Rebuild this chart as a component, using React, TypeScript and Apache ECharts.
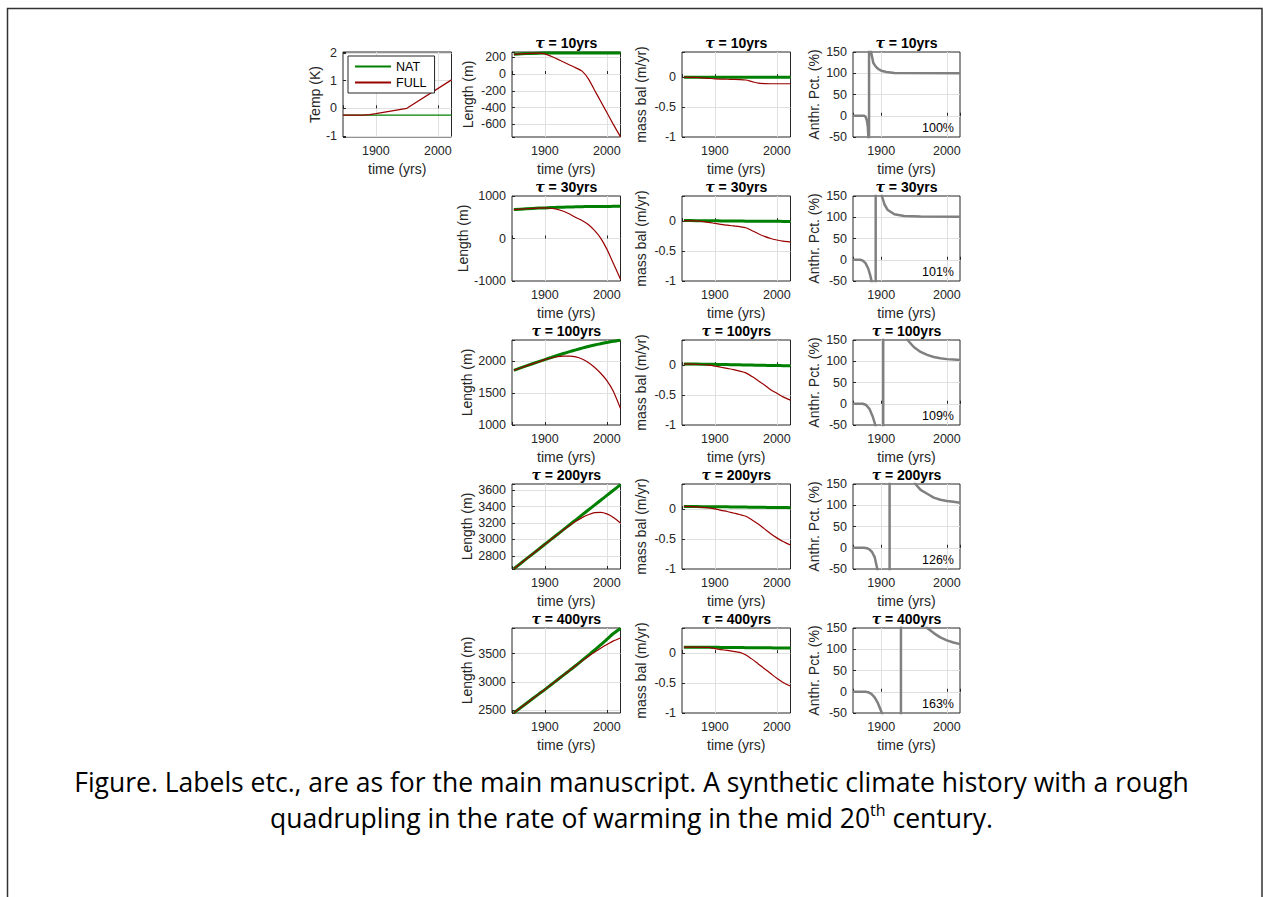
import React, { useEffect, useRef } from 'react';
import * as echarts from 'echarts';

// ---------------- data ----------------
const YRS = [1850, 1870, 1890, 1900, 1910, 1920, 1930, 1940, 1950, 1960, 1970, 1980, 1990, 2000, 2010, 2022];

const TEMP_YRS = [1847, 1870, 1880, 1890, 1900, 1950, 2022];
const TEMP_NAT = [-0.25, -0.25, -0.25, -0.25, -0.25, -0.25, -0.25];
const TEMP_FULL = [-0.25, -0.25, -0.245, -0.228, -0.195, 0, 1.03];

const TAU_VALUES = ['10', '30', '100', '200', '400'];
const PCT_LABELS = ['100%', '101%', '109%', '126%', '163%'];

// Length (m)
const LEN_NAT_10 = [235, 244, 249, 250, 251, 251, 251, 251, 251, 251, 251, 251, 251, 251, 251, 251];
const LEN_FULL_10 = [235, 244, 249, 240, 212, 178, 143, 108, 73, 35, -55, -190, -325, -460, -595, -750];
const LEN_NAT_30 = [680, 700, 715, 720, 727, 733, 738, 742, 746, 749, 751, 753, 754, 755, 756, 757];
const LEN_FULL_30 = [680, 700, 715, 720, 712, 685, 640, 575, 495, 425, 330, 190, 10, -250, -570, -960];
const LEN_NAT_100 = [1860, 1930, 1997, 2030, 2062, 2094, 2125, 2155, 2183, 2210, 2235, 2258, 2280, 2300, 2318, 2335];
const LEN_FULL_100 = [1860, 1930, 1995, 2028, 2055, 2074, 2084, 2085, 2073, 2040, 1985, 1910, 1815, 1700, 1540, 1260];
const LEN_NAT_200 = [2645, 2764, 2882, 2942, 3001, 3060, 3120, 3179, 3238, 3298, 3357, 3416, 3476, 3535, 3594, 3665];
const LEN_FULL_200 = [2645, 2764, 2882, 2941, 3000, 3058, 3118, 3170, 3220, 3265, 3300, 3325, 3328, 3310, 3270, 3200];
const LEN_NAT_400 = [2455, 2620, 2785, 2865, 2950, 3035, 3120, 3205, 3290, 3380, 3470, 3560, 3655, 3750, 3850, 3945];
const LEN_FULL_400 = [2455, 2620, 2785, 2865, 2950, 3035, 3120, 3205, 3290, 3372, 3450, 3525, 3595, 3660, 3720, 3775];

// mass balance (m/yr)
const MB_NAT_10 = [0, 0, 0, 0, 0, 0, 0, 0, 0, 0, 0, 0, 0, 0, 0, 0];
const MB_FULL_10 = [0, -0.005, -0.02, -0.028, -0.032, -0.035, -0.037, -0.04, -0.048, -0.075, -0.1, -0.108, -0.11, -0.11, -0.11, -0.11];
const MB_NAT_30 = [0.01, 0.008, 0.006, 0.005, 0.004, 0.003, 0.002, 0.001, 0, 0, -0.001, -0.002, -0.003, -0.003, -0.004, -0.005];
const MB_FULL_30 = [0.01, 0.003, -0.02, -0.038, -0.053, -0.068, -0.08, -0.092, -0.11, -0.16, -0.21, -0.255, -0.29, -0.315, -0.335, -0.35];
const MB_NAT_100 = [0.02, 0.018, 0.015, 0.013, 0.011, 0.009, 0.007, 0.005, 0.003, 0.001, -0.001, -0.003, -0.005, -0.007, -0.009, -0.011];
const MB_FULL_100 = [0.02, 0.015, 0.0, -0.015, -0.035, -0.055, -0.075, -0.1, -0.13, -0.19, -0.26, -0.33, -0.41, -0.47, -0.53, -0.585];
const MB_NAT_200 = [0.045, 0.043, 0.041, 0.04, 0.039, 0.038, 0.036, 0.035, 0.034, 0.032, 0.031, 0.03, 0.028, 0.027, 0.026, 0.025];
const MB_FULL_200 = [0.045, 0.038, 0.02, 0.005, -0.02, -0.04, -0.065, -0.09, -0.12, -0.18, -0.25, -0.33, -0.41, -0.48, -0.54, -0.6];
const MB_NAT_400 = [0.1, 0.099, 0.098, 0.097, 0.096, 0.095, 0.094, 0.093, 0.092, 0.091, 0.09, 0.089, 0.088, 0.087, 0.086, 0.085];
const MB_FULL_400 = [0.1, 0.1, 0.095, 0.075, 0.06, 0.045, 0.03, 0.012, -0.03, -0.1, -0.18, -0.26, -0.34, -0.42, -0.49, -0.55];

// Anthropogenic percentage (%)
const ANTH_YRS_10 = [1857, 1874, 1876, 1878, 1879.5, 1880.4, 1881, 1881.4, 1881.5, 1883, 1884.5, 1888, 1892, 1895.6, 1900, 1908, 1920, 2020];
const ANTH_10 = [0, 0, -2, -10, -25, -50, -150, -50000, 50000, 300, 150, 124, 115, 110, 106, 103, 100.5, 100];
const ANTH_YRS_30 = [1857, 1868, 1872, 1876, 1880, 1883, 1886, 1889, 1891, 1891.5, 1891.6, 1894, 1898, 1901, 1905, 1910, 1920, 1935, 1960, 2020];
const ANTH_30 = [0, 0, -2, -8, -20, -35, -55, -120, -600, -50000, 50000, 500, 200, 150, 130, 117, 107, 103, 101.5, 101];
const ANTH_YRS_100 = [1857, 1872, 1877, 1882, 1887, 1891, 1895, 1900, 1903, 1903.1, 1910, 1920, 1930, 1940, 1950, 1960, 1970, 1980, 1990, 2000, 2010, 2020];
const ANTH_100 = [0, 0, -3, -12, -30, -50, -90, -300, -50000, 50000, 800, 300, 190, 150, 133, 122, 115, 110, 107, 105, 104, 103];
const ANTH_YRS_200 = [1857, 1874, 1878, 1882, 1886, 1890, 1894, 1898, 1905, 1911, 1912.7, 1912.8, 1915, 1925, 1935, 1945, 1952, 1960, 1970, 1980, 1990, 2000, 2010, 2020];
const ANTH_200 = [0, 0, -1, -4, -10, -22, -50, -100, -300, -3000, -50000, 50000, 3000, 600, 280, 180, 150, 136, 127, 118, 113, 110, 108, 106];
const ANTH_YRS_400 = [1857, 1876, 1880, 1885, 1890, 1895, 1901, 1908, 1918, 1927, 1930, 1930.1, 1935, 1945, 1955, 1963, 1970, 1980, 1990, 2000, 2010, 2020];
const ANTH_400 = [0, 0, -1, -5, -13, -27, -50, -100, -300, -2000, -50000, 50000, 2000, 500, 250, 180, 150, 138, 128, 121, 116, 112];

const LEN_NAT = [LEN_NAT_10, LEN_NAT_30, LEN_NAT_100, LEN_NAT_200, LEN_NAT_400];
const LEN_FULL = [LEN_FULL_10, LEN_FULL_30, LEN_FULL_100, LEN_FULL_200, LEN_FULL_400];
const MB_NAT = [MB_NAT_10, MB_NAT_30, MB_NAT_100, MB_NAT_200, MB_NAT_400];
const MB_FULL = [MB_FULL_10, MB_FULL_30, MB_FULL_100, MB_FULL_200, MB_FULL_400];
const ANTH_YRS = [ANTH_YRS_10, ANTH_YRS_30, ANTH_YRS_100, ANTH_YRS_200, ANTH_YRS_400];
const ANTH = [ANTH_10, ANTH_30, ANTH_100, ANTH_200, ANTH_400];

// axis limits
const LEN_LIM = [[-752, 263], [-1000, 1000], [1000, 2338], [2642, 3673], [2452, 3952]];
const LEN_STEP = [200, 1000, 500, 200, 500];
const MB_LIM = [-1, 0.42];
const ANTH_LIM = [-50, 150];
const TEMP_LIM = [-1.04, 2.04];
const X_LIM = [1847, 2022];
const X_LIM_PCT = [1857, 2020];

const CAPTION_1 = 'Figure. Labels etc., are as for the main manuscript. A synthetic climate history with a rough';
const CAPTION_2 = 'quadrupling in the rate of warming in the mid 20{sup|th} century.';

// ---------------- layout / style ----------------
const FONT = 'Liberation Sans, Arial, Helvetica, sans-serif';
const AX = '#262626';
const GREEN = '#008000';
const RED = '#990000';
const GRAY = '#808080';
const COL_LEFT = [343, 512, 682, 853];
const COL_W = [108.5, 108.5, 108.5, 107];
const ROW_TOP0 = 52;
const ROW_STEP = 144;
const PH = 85;
const TICK_FS = 12.5;
const NAME_FS = 14;

function fmt(step: number) {
  return (v: number) => {
    const k = v / step;
    if (Math.abs(k - Math.round(k)) < 1e-6) {
      return String(Math.round(Math.round(k) * step * 1000) / 1000);
    }
    return '';
  };
}

function buildOption() {
  const grid: any[] = [];
  const xAxis: any[] = [];
  const yAxis: any[] = [];
  const series: any[] = [];
  const graphic: any[] = [];

  const addPanel = (p: {
    col: number; row: number; xlim: number[]; ylim: number[]; ystep: number;
    yname: string; ygap: number;
  }) => {
    const idx = grid.length;
    const left = COL_LEFT[p.col];
    const top = ROW_TOP0 + ROW_STEP * p.row;
    const width = COL_W[p.col];
    grid.push({ left, top, width, height: PH, show: true, borderColor: AX, borderWidth: 1, backgroundColor: 'transparent', containLabel: false });
    xAxis.push({
      type: 'value', gridIndex: idx, min: p.xlim[0], max: p.xlim[1],
      splitNumber: 2, minInterval: 100, maxInterval: 100,
      axisLine: { show: false },
      axisTick: { show: true, inside: true, length: 3, lineStyle: { color: AX } },
      axisLabel: { formatter: fmt(100), fontSize: TICK_FS, color: AX, margin: 7, fontFamily: FONT },
      splitLine: { show: true, showMinLine: false, showMaxLine: false, lineStyle: { color: '#e0e0e0', width: 1 } },
      name: 'time (yrs)', nameLocation: 'middle', nameGap: 25,
      nameTextStyle: { fontSize: NAME_FS, color: AX, fontFamily: FONT },
    });
    const span = p.ylim[1] - p.ylim[0];
    yAxis.push({
      type: 'value', gridIndex: idx, min: p.ylim[0], max: p.ylim[1],
      splitNumber: Math.max(1, Math.round(span / p.ystep)), minInterval: p.ystep, maxInterval: p.ystep,
      axisLine: { show: false },
      axisTick: { show: true, inside: true, length: 3, lineStyle: { color: AX } },
      axisLabel: { formatter: fmt(p.ystep), fontSize: TICK_FS, color: AX, margin: 6, fontFamily: FONT },
      splitLine: { show: true, showMinLine: false, showMaxLine: false, lineStyle: { color: '#e0e0e0', width: 1 } },
      name: p.yname, nameLocation: 'middle', nameRotate: 90, nameGap: p.ygap,
      nameTextStyle: { fontSize: NAME_FS, color: AX, fontFamily: FONT },
    });
    return { idx, left, top, width };
  };

  const line = (idx: number, name: string, xs: number[], ys: number[], color: string, width: number, smooth: number | boolean) => {
    series.push({
      type: 'line', name, xAxisIndex: idx, yAxisIndex: idx,
      data: xs.map((x, k) => [x, ys[k]]),
      symbol: 'none', showSymbol: false, smooth, clip: true, silent: true,
      lineStyle: { color, width },
      itemStyle: { color },
    });
  };

  // Temperature panel
  const t = addPanel({ col: 0, row: 0, xlim: X_LIM, ylim: TEMP_LIM, ystep: 1, yname: 'Temp (K)', ygap: 20 });
  line(t.idx, 'NAT', TEMP_YRS, TEMP_NAT, GREEN, 1.2, false);
  line(t.idx, 'FULL', TEMP_YRS, TEMP_FULL, RED, 1.2, false);

  for (let r = 0; r < 5; r++) {
    const tag = 'τ=' + TAU_VALUES[r];
    const L = addPanel({ col: 1, row: r, xlim: X_LIM, ylim: LEN_LIM[r], ystep: LEN_STEP[r], yname: 'Length (m)', ygap: r === 1 ? 42 : 37 });
    line(L.idx, 'Length NAT ' + tag, YRS, LEN_NAT[r], GREEN, 3, 0.25);
    line(L.idx, 'Length FULL ' + tag, YRS, LEN_FULL[r], RED, 1.2, 0.25);

    const M = addPanel({ col: 2, row: r, xlim: X_LIM, ylim: MB_LIM, ystep: 0.5, yname: 'mass bal (m/yr)', ygap: 34 });
    line(M.idx, 'MB NAT ' + tag, YRS, MB_NAT[r], GREEN, 3, 0.25);
    line(M.idx, 'MB FULL ' + tag, YRS, MB_FULL[r], RED, 1.2, 0.25);

    const A = addPanel({ col: 3, row: r, xlim: X_LIM_PCT, ylim: ANTH_LIM, ystep: 50, yname: 'Anthr. Pct. (%)', ygap: 32 });
    line(A.idx, 'Anthr ' + tag, ANTH_YRS[r], ANTH[r], GRAY, 2.5, false);

    [L, M, A].forEach((pn) => {
      graphic.push({
        type: 'text', x: pn.left + pn.width / 2, y: pn.top - 9.5, silent: true,
        style: {
          text: '{g|τ} = ' + TAU_VALUES[r] + 'yrs',
          fontSize: 14, fontWeight: 'bold', fontFamily: FONT, fill: '#000', align: 'center', verticalAlign: 'middle',
          rich: { g: { fontSize: 14, fontWeight: 'bold', fontStyle: 'italic', fontFamily: 'DejaVu Serif', fill: '#000' } },
        },
      });
    });
    graphic.push({
      type: 'text', x: A.left + A.width - 6, y: A.top + PH - 9.5, silent: true,
      style: { text: PCT_LABELS[r], fontSize: 12.5, fontFamily: FONT, fill: '#000', align: 'right', verticalAlign: 'middle' },
    });
  }

  // page frame
  graphic.push({
    type: 'rect', silent: true, z: -10,
    shape: { x: 7.5, y: 8.5, width: 1254.5, height: 1000 },
    style: { fill: 'none', stroke: '#333', lineWidth: 1.5 },
  });

  return {
    animation: false,
    backgroundColor: '#fff',
    textStyle: { fontFamily: FONT },
    grid, xAxis, yAxis, series, graphic,
    legend: {
      data: ['NAT', 'FULL'], orient: 'vertical', left: 348, top: 56,
      itemWidth: 36, itemHeight: 12, itemGap: 3, padding: [4, 8, 4, 6],
      backgroundColor: '#fff', borderColor: AX, borderWidth: 1, borderRadius: 0,
      selectedMode: false,
      itemStyle: { opacity: 0, borderWidth: 0 },
      textStyle: { fontSize: 12.5, color: '#000', fontFamily: FONT },
    },
    title: [
      {
        text: CAPTION_1,
        left: 'center', top: 761,
        textStyle: { fontFamily: 'Open Sans', fontSize: 26.5, fontWeight: 'normal', color: '#000', lineHeight: 32 },
      },
      {
        text: CAPTION_2,
        left: 'center', top: 797,
        textStyle: {
          fontFamily: 'Open Sans', fontSize: 26.5, fontWeight: 'normal', color: '#000', lineHeight: 32,
          rich: { sup: { fontFamily: 'Open Sans', fontSize: 16, color: '#000', verticalAlign: 'top', lineHeight: 18 } },
        },
      },
    ],
  };
}

export default function App() {
  const ref = useRef<HTMLDivElement>(null);
  useEffect(() => {
    if (!ref.current) return;
    const chart = echarts.init(ref.current, null, { renderer: 'svg' });
    chart.setOption(buildOption() as any);
    return () => chart.dispose();
  }, []);
  return <div ref={ref} style={{ position: 'absolute', left: 0, top: 0, width: 1263, height: 897 }} />;
}
